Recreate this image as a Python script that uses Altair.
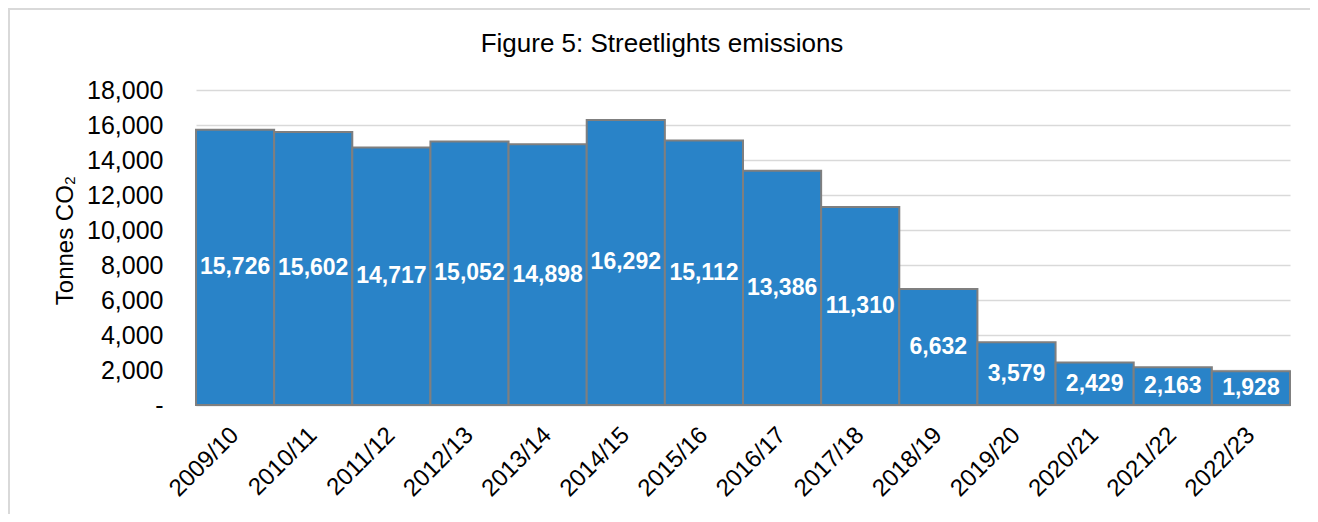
import altair as alt
import pandas as pd

years = ["2009/10", "2010/11", "2011/12", "2012/13", "2013/14", "2014/15", "2015/16",
         "2016/17", "2017/18", "2018/19", "2019/20", "2020/21", "2021/22", "2022/23"]
emissions = [15726, 15602, 14717, 15052, 14898, 16292, 15112,
             13386, 11310, 6632, 3579, 2429, 2163, 1928]
title_text = "Figure 5: Streetlights emissions"
y_title = "Tonnes CO₂"

df = pd.DataFrame({"year": years, "value": emissions})

W, H = 1094, 315
PL, PT, PR, PB = 188, 82, 20, 109
FONT = "Liberation Sans"

x_axis = alt.Axis(labelAngle=-45, labelAlign="right", labelBaseline="middle",
                  ticks=False, domain=True, domainColor="#d9d9d9",
                  domainWidth=1.5, labelPadding=26, grid=False,
                  labelFontSize=24, labelColor="#000000", labelFont=FONT)
y_axis = alt.Axis(values=list(range(0, 18001, 2000)),
                  labelExpr="datum.value == 0 ? '-' : format(datum.value, ',')",
                  ticks=False, domain=False, grid=True, gridColor="#d9d9d9",
                  gridWidth=1.5, labelPadding=33,
                  labelFontSize=25, labelColor="#000000", labelFont=FONT,
                  titleFontSize=24, titleFont=FONT, titleFontWeight="normal",
                  titleColor="#000000", titleX=-124, titleY=150, titleAngle=270,
                  titleAlign="center", titleBaseline="alphabetic")
x_scale = alt.Scale(paddingInner=0, paddingOuter=0)
y_scale = alt.Scale(domain=[0, 18000], nice=False)

bars = alt.Chart(df).mark_bar(color="#2983c8", stroke="#7f7f7f", strokeWidth=2).encode(
    x=alt.X("year:N", sort=years, title=None, scale=x_scale, axis=x_axis),
    y=alt.Y("value:Q", title=y_title, scale=y_scale, axis=y_axis))

labels = alt.Chart(df).transform_calculate(
    mid="datum.value / 2",
    lab="format(datum.value, ',')"
).mark_text(color="white", fontWeight="bold", fontSize=23, font=FONT,
            baseline="middle", align="center").encode(
    x=alt.X("year:N", sort=years, title=None, scale=x_scale, axis=x_axis),
    y=alt.Y("mid:Q", title=y_title, scale=y_scale, axis=y_axis),
    text="lab:N")

top_line = alt.Chart(df).mark_rule(color="#d9d9d9", strokeWidth=2).encode(
    x=alt.value(-PL), x2=alt.value(W + PR), y=alt.value(-PT + 1))
left_line = alt.Chart(df).mark_rule(color="#d9d9d9", strokeWidth=2).encode(
    x=alt.value(-PL + 1), y=alt.value(-PT), y2=alt.value(H + PB))

title = alt.Chart(pd.DataFrame({"t": [title_text]})).mark_text(
    fontSize=26, font=FONT, color="#000000", align="center", baseline="alphabetic").encode(
    x=alt.value(466), y=alt.value(-38), text="t:N")

chart = alt.layer(top_line, left_line, bars, labels, title).properties(
    width=W, height=H,
    autosize=alt.AutoSizeParams(type="none"),
    padding={"left": PL, "top": PT, "right": PR, "bottom": PB},
).configure_view(stroke=None)

chart.save("out.html", embed_options={"renderer": "svg", "actions": False})
